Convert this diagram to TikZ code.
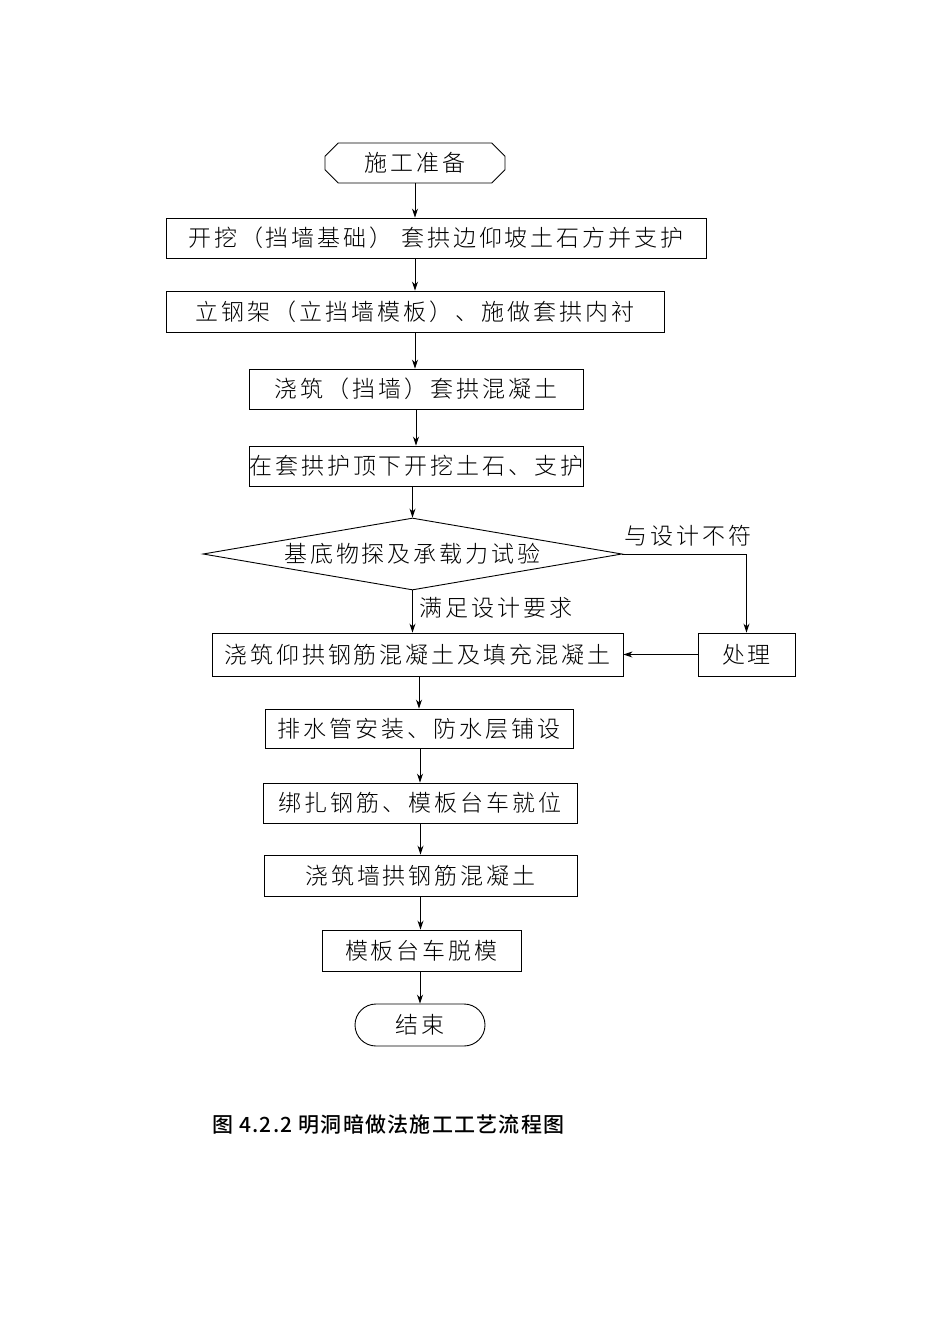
\documentclass[tikz,border=0pt]{standalone}
\usepackage{fontspec}
\newfontfamily\cjk[LetterSpace=6]{Noto Sans CJK SC Medium}
\newfontfamily\cjkl[LetterSpace=13]{Noto Sans CJK SC Light}
\usetikzlibrary{shapes.geometric,shapes.misc,arrows.meta}
\begin{document}
\begin{tikzpicture}[x=1pt,y=-1pt,
  bx/.style={draw,line width=0.9pt,inner sep=0pt,font=\cjkl\fontsize{23}{24}\selectfont},
  lab/.style={font=\cjkl\fontsize{23}{24}\selectfont},
  ar/.style={-{Stealth[length=9pt,width=6pt]},line width=0.9pt}]
\useasboundingbox (0,0) rectangle (950,1344);
\node[bx,chamfered rectangle,chamfered rectangle xsep=20pt,minimum width=180pt,minimum height=40pt] (s) at (415,163) {施工准备};
\node[bx,minimum width=540pt,minimum height=40pt] (b1) at (436,238) {开挖（挡墙基础） 套拱边仰坡土石方并支护};
\node[bx,minimum width=498pt,minimum height=41pt] (b2) at (415,311.5) {立钢架（立挡墙模板）、施做套拱内衬};
\node[bx,minimum width=334pt,minimum height=40pt] (b3) at (416,389) {浇筑（挡墙）套拱混凝土};
\node[bx,minimum width=333pt,minimum height=40pt] (b4) at (416.5,466) {在套拱护顶下开挖土石、支护};
\node[bx,diamond,aspect=5.8,minimum width=419pt,minimum height=72pt] (d) at (412.5,554) {基底物探及承载力试验};
\node[bx,minimum width=97pt,minimum height=43pt] (p) at (746.5,654.5) {处理};
\node[bx,minimum width=411pt,minimum height=43pt] (b5) at (417.5,654.5) {浇筑仰拱钢筋混凝土及填充混凝土};
\node[bx,minimum width=308pt,minimum height=39pt] (b6) at (419,728.5) {排水管安装、防水层铺设};
\node[bx,minimum width=314pt,minimum height=40pt] (b7) at (420,803) {绑扎钢筋、模板台车就位};
\node[bx,minimum width=313pt,minimum height=41pt] (b8) at (420.5,875.5) {浇筑墙拱钢筋混凝土};
\node[bx,minimum width=199pt,minimum height=41pt] (b9) at (421.5,950.5) {模板台车脱模};
\node[bx,rounded rectangle,minimum width=130pt,minimum height=42pt] (e) at (420,1025) {结束};
\node[lab] (l1) at (688,536) {与设计不符};
\node[lab] (l2) at (496,608) {满足设计要求};
\node[font=\cjk\fontsize{21}{22}\selectfont,anchor=west,inner sep=0pt] (cap) at (212,1125) {图 4.2.2 明洞暗做法施工工艺流程图};
\draw[ar] (s.south) -- (s.south|-b1.north);
\draw[ar] (b2.north|-b1.south) -- (b2.north);
\draw[ar] (b2.south) -- (b2.south|-b3.north);
\draw[ar] (b3.south) -- (b3.south|-b4.north);
\draw[ar] (d.north|-b4.south) -- (d.north);
\draw[ar] (d.south) -- (d.south|-b5.north);
\draw[ar] (d.east) -- (d.east-|p.north) -- (p.north);
\draw[ar] (p.west) -- (b5.east);
\draw[ar] (b6.north|-b5.south) -- (b6.north);
\draw[ar] (b7.north|-b6.south) -- (b7.north);
\draw[ar] (b8.north|-b7.south) -- (b8.north);
\draw[ar] (b8.south) -- (b8.south|-b9.north);
\draw[ar] (e.north|-b9.south) -- (e.north);
\end{tikzpicture}
\end{document}
